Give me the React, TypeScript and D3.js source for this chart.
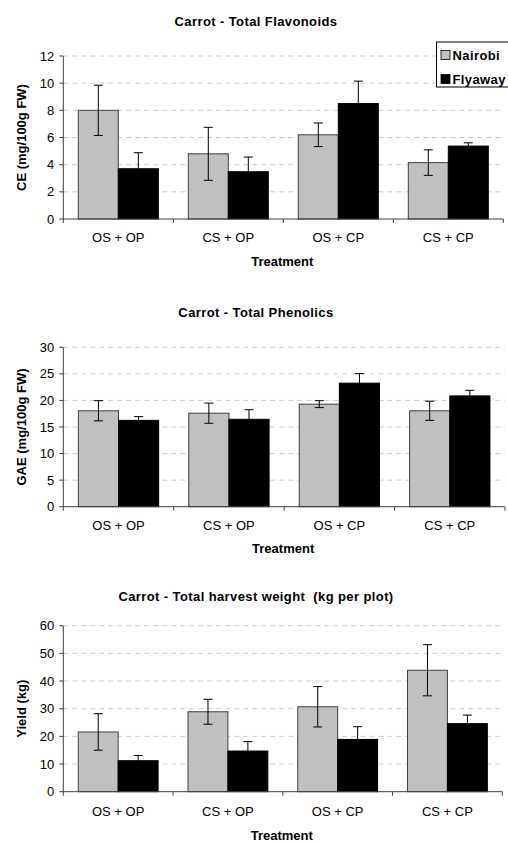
import React from 'react';
import * as d3 from 'd3';

// treatments on the x axis
const categories = ['OS + OP', 'CS + OP', 'OS + CP', 'CS + CP'];
const seriesNames = ['Nairobi', 'Flyaway'];

// flavonoids (CE mg/100g FW)
const flavNairobi = [8.0, 4.8, 6.2, 4.15];
const flavNairobiErr = [1.85, 1.95, 0.87, 0.94];
const flavFlyaway = [3.7, 3.48, 8.5, 5.37];
const flavFlyawayErr = [1.18, 1.08, 1.65, 0.24];

// phenolics (GAE mg/100g FW)
const phenNairobi = [18.05, 17.6, 19.3, 18.05];
const phenNairobiErr = [1.9, 1.9, 0.65, 1.8];
const phenFlyaway = [16.25, 16.45, 23.25, 20.85];
const phenFlyawayErr = [0.7, 1.8, 1.8, 1.05];

// harvest weight (kg per plot)
const yieldNairobi = [21.6, 28.9, 30.7, 43.9];
const yieldNairobiErr = [6.6, 4.5, 7.3, 9.25];
const yieldFlyaway = [11.2, 14.7, 18.9, 24.6];
const yieldFlyawayErr = [1.9, 3.4, 4.6, 3.1];

const yTicks1 = [0, 2, 4, 6, 8, 10, 12];
const yTicks2 = [0, 5, 10, 15, 20, 25, 30];
const yTicks3 = [0, 10, 20, 30, 40, 50, 60];

const colors = { Nairobi: '#c0c0c0', Flyaway: '#000000' };
const font = 'Arial, "Liberation Sans", sans-serif';

type ChartProps = {
  title: string;
  yLabel: string;
  ticks: number[];
  values: number[][];
  errors: number[][];
  top: number;
  bottom: number;
  right: number;
  titleY: number;
  catY: number;
  xTitleY: number;
  legend?: boolean;
};

function BarChart(p: ChartProps) {
  const left = 63.3;
  const y = d3.scaleLinear().domain([0, d3.max(p.ticks) as number]).range([p.bottom, p.top]);
  const x0 = d3.scaleBand().domain(categories).range([left, p.right]).paddingInner(0).paddingOuter(0);
  const x1 = d3.scaleBand().domain(seriesNames).range([0, x0.bandwidth()]).paddingInner(0).paddingOuter(0.375);
  const cap = 4.5;

  return (
    <g fontFamily={font}>
      <text x={256} y={p.titleY} textAnchor="middle" fontSize={13} fontWeight="bold" letterSpacing={0.4}
        style={{ whiteSpace: 'pre' }}>
        {p.title}
      </text>
      {/* gridlines */}
      {p.ticks.filter(t => t > 0).map(t => (
        <line key={'g' + t} x1={left} x2={p.right} y1={y(t)} y2={y(t)} stroke="#cccccc" strokeDasharray="5,4" />
      ))}
      {/* bars */}
      {categories.map((c, i) => (
        <g key={c} transform={`translate(${x0(c)},0)`}>
          {seriesNames.map((s, k) => (
            <rect key={s} x={x1(s)} y={y(p.values[k][i])} width={x1.bandwidth()}
              height={p.bottom - y(p.values[k][i])} fill={colors[s as 'Nairobi' | 'Flyaway']}
              stroke={k === 0 ? '#404040' : '#000'} strokeWidth={1} />
          ))}
          {seriesNames.map((s, k) => {
            const cx = (x1(s) as number) + x1.bandwidth() / 2;
            const hi = y(p.values[k][i] + p.errors[k][i]);
            const lo = y(p.values[k][i] - p.errors[k][i]);
            return (
              <g key={'e' + s} stroke="#000" strokeWidth={1}>
                <line x1={cx} x2={cx} y1={hi} y2={lo} />
                <line x1={cx - cap} x2={cx + cap} y1={hi} y2={hi} />
                <line x1={cx - cap} x2={cx + cap} y1={lo} y2={lo} />
              </g>
            );
          })}
        </g>
      ))}
      {/* y axis */}
      <line x1={left} x2={left} y1={p.top} y2={p.bottom} stroke="#404040" />
      {p.ticks.map(t => (
        <g key={'t' + t}>
          <line x1={left - 4} x2={left} y1={y(t)} y2={y(t)} stroke="#404040" />
          <text x={left - 9} y={y(t) + 4.5} textAnchor="end" fontSize={13}>{t}</text>
        </g>
      ))}
      {/* x axis */}
      <line x1={left} x2={p.right} y1={p.bottom} y2={p.bottom} stroke="#404040" />
      {categories.map(c => (
        <line key={'xt' + c} x1={(x0(c) as number) + x0.bandwidth()} x2={(x0(c) as number) + x0.bandwidth()}
          y1={p.bottom} y2={p.bottom + 4} stroke="#404040" />
      ))}
      <line x1={left} x2={left} y1={p.bottom} y2={p.bottom + 4} stroke="#404040" />
      {categories.map(c => (
        <text key={'xl' + c} x={(x0(c) as number) + x0.bandwidth() / 2} y={p.catY} textAnchor="middle" fontSize={13}>
          {c}
        </text>
      ))}
      <text x={(left + p.right) / 2 - 1} y={p.xTitleY} textAnchor="middle" fontSize={13} fontWeight="bold">Treatment</text>
      <text transform={`translate(26,${(p.top + p.bottom) / 2}) rotate(-90)`} textAnchor="middle" fontSize={13} fontWeight="bold">
        {p.yLabel}
      </text>
      {p.legend && (
        <g>
          <rect x={436.5} y={42} width={90} height={45} fill="#fff" stroke="#000" />
          {seriesNames.map((s, k) => (
            <g key={'l' + s}>
              <rect x={441} y={50.5 + k * 24} width={9} height={9} fill={colors[s as 'Nairobi' | 'Flyaway']} stroke="#000" strokeWidth={0.8} />
              <text x={452.5} y={59.5 + k * 24} fontSize={13} fontWeight="bold" letterSpacing={0.4}>{s}</text>
            </g>
          ))}
        </g>
      )}
    </g>
  );
}

export default function App() {
  return (
    <svg width={508} height={842} style={{ position: 'absolute', left: 0, top: 0, background: '#fff' }}>
      <rect width={508} height={842} fill="#fff" />
      <BarChart title="Carrot - Total Flavonoids" yLabel="CE (mg/100g FW)" ticks={yTicks1}
        values={[flavNairobi, flavFlyaway]} errors={[flavNairobiErr, flavFlyawayErr]}
        top={56} bottom={219} right={503.3} titleY={26} catY={242} xTitleY={265.5} legend />
      <BarChart title="Carrot - Total Phenolics" yLabel="GAE (mg/100g FW)" ticks={yTicks2}
        values={[phenNairobi, phenFlyaway]} errors={[phenNairobiErr, phenFlyawayErr]}
        top={347.3} bottom={506.7} right={505} titleY={316.5} catY={530} xTitleY={553} />
      <BarChart title="Carrot - Total harvest weight  (kg per plot)" yLabel="Yield (kg)" ticks={yTicks3}
        values={[yieldNairobi, yieldFlyaway]} errors={[yieldNairobiErr, yieldFlyawayErr]}
        top={625.7} bottom={791.7} right={502.3} titleY={600.5} catY={816} xTitleY={839.5} />
    </svg>
  );
}
